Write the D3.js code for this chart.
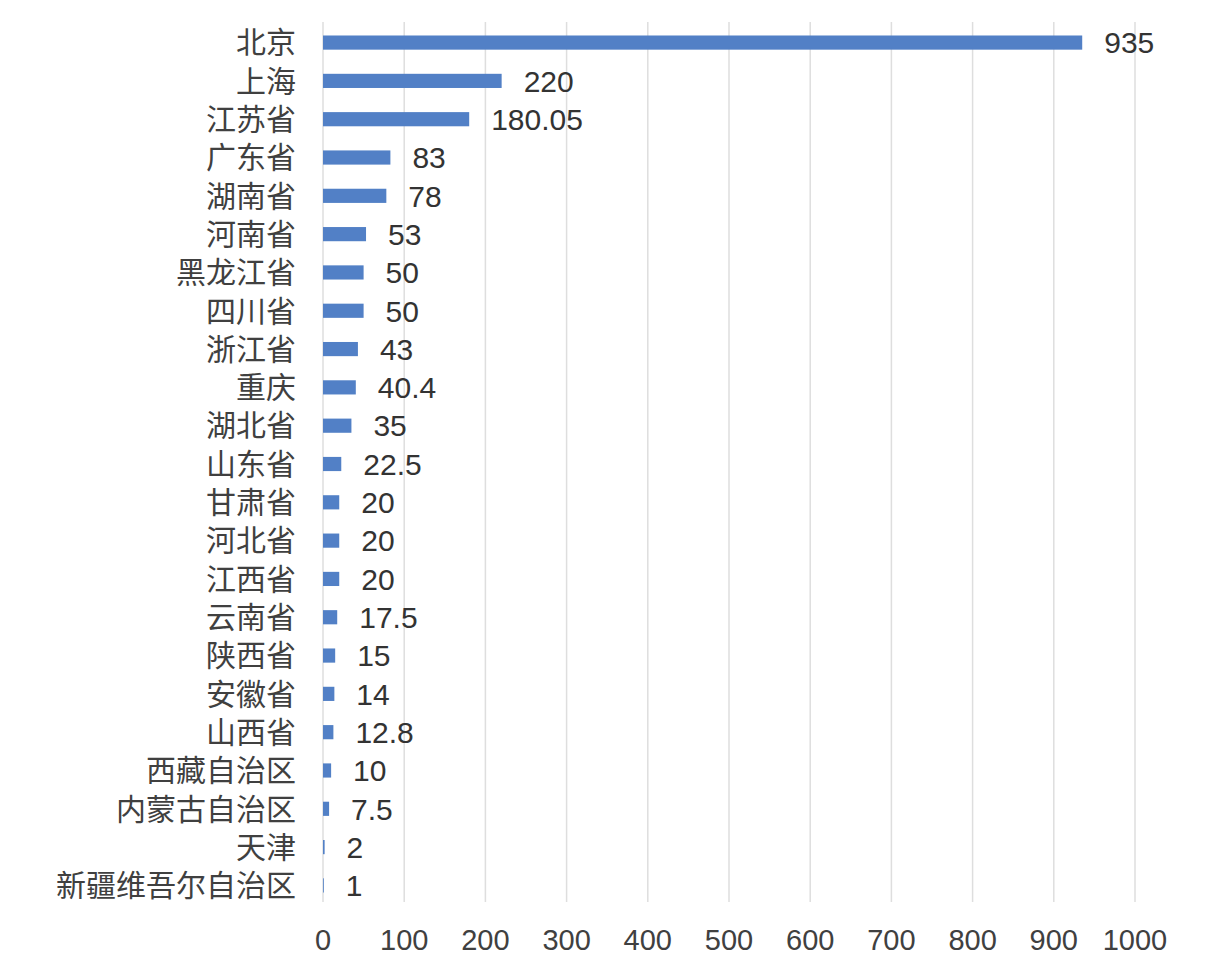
<!DOCTYPE html>
<html><head><meta charset="utf-8">
<script src="https://cdn.jsdelivr.net/npm/d3@7"></script>
<style>
html,body{margin:0;padding:0;background:#fff;}
text{font-family:"Liberation Sans","Noto Sans CJK SC",sans-serif;}
</style></head><body>
<svg id="c" width="1230" height="976"></svg>
<script>
const categories = ["北京","上海","江苏省","广东省","湖南省","河南省","黑龙江省","四川省","浙江省","重庆","湖北省","山东省","甘肃省","河北省","江西省","云南省","陕西省","安徽省","山西省","西藏自治区","内蒙古自治区","天津","新疆维吾尔自治区"];
const values = [935,220,180.05,83,78,53,50,50,43,40.4,35,22.5,20,20,20,17.5,15,14,12.8,10,7.5,2,1];
const valueLabels = ["935","220","180.05","83","78","53","50","50","43","40.4","35","22.5","20","20","20","17.5","15","14","12.8","10","7.5","2","1"];
const tickValues = [0,100,200,300,400,500,600,700,800,900,1000];

const svg = d3.select("#c");
const x = d3.scaleLinear().domain([0,1000]).range([323,1135]);
const y = d3.scaleBand().domain(categories).range([24,904]).paddingInner(0.63).paddingOuter(0.3);

// gridlines
svg.append("g").selectAll("line").data(tickValues).join("line")
  .attr("x1",d=>x(d)).attr("x2",d=>x(d)).attr("y1",22).attr("y2",902)
  .attr("stroke","#dedede").attr("stroke-width",1.5);

// bars
svg.append("g").selectAll("rect").data(values).join("rect")
  .attr("x",x(0)).attr("y",(d,i)=>y(categories[i]))
  .attr("width",d=>x(d)-x(0)).attr("height",y.bandwidth())
  .attr("fill","#5280c6");

// value labels
svg.append("g").selectAll("text").data(values).join("text")
  .attr("x",d=>x(d)+22).attr("y",(d,i)=>y(categories[i])+y.bandwidth()/2)
  .attr("dy","0.36em").attr("font-size",30).attr("fill","#333")
  .text((d,i)=>valueLabels[i]);

// category labels
svg.append("g").selectAll("text").data(categories).join("text")
  .attr("x",296).attr("y",d=>y(d)+y.bandwidth()/2)
  .attr("dy","0.36em").attr("text-anchor","end").attr("font-size",30).attr("fill","#404040")
  .text(d=>d);

// x axis tick labels
svg.append("g").selectAll("text").data(tickValues).join("text")
  .attr("x",d=>x(d)).attr("y",940).attr("dy","0.36em").attr("text-anchor","middle")
  .attr("font-size",29).attr("fill","#404040").text(d=>d);
</script></body></html>
